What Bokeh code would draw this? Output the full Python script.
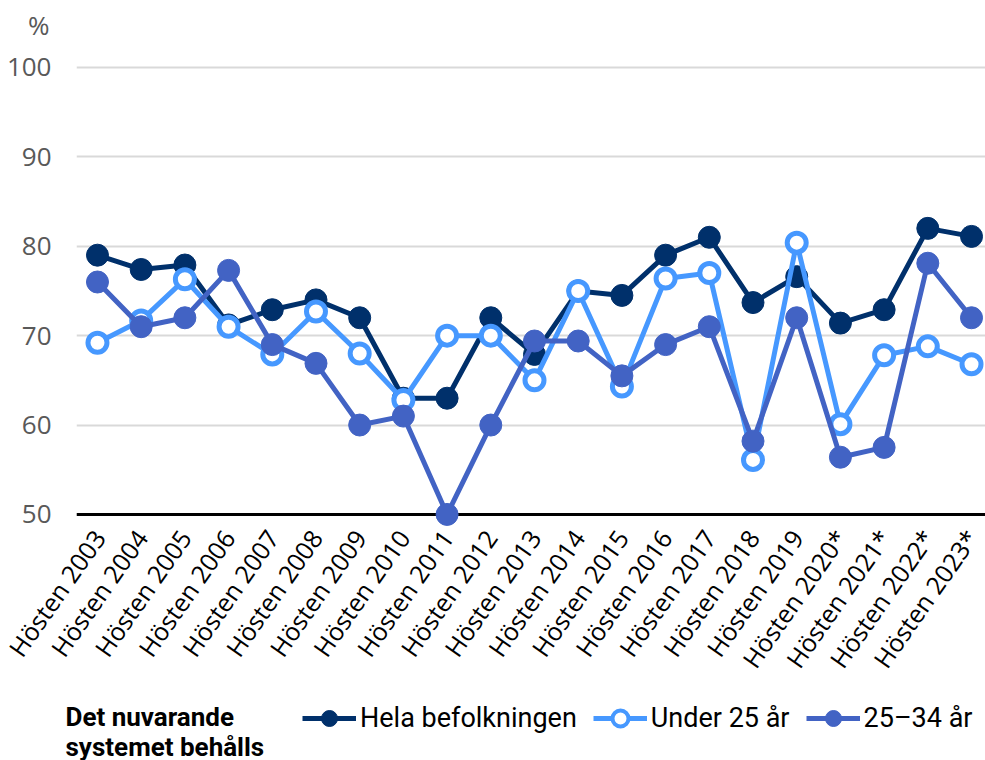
from bokeh.plotting import figure
from bokeh.layouts import column
from bokeh.models import Range1d, FixedTicker, Legend, LegendItem, Span, LinearAxis, Label
from bokeh.embed import file_html
from bokeh.resources import INLINE

periods = ["Hösten 2003", "Hösten 2004", "Hösten 2005", "Hösten 2006", "Hösten 2007",
           "Hösten 2008", "Hösten 2009", "Hösten 2010", "Hösten 2011", "Hösten 2012",
           "Hösten 2013", "Hösten 2014", "Hösten 2015", "Hösten 2016", "Hösten 2017",
           "Hösten 2018", "Hösten 2019", "Hösten 2020*", "Hösten 2021*", "Hösten 2022*",
           "Hösten 2023*"]
hela = [79.0, 77.4, 77.9, 71.2, 72.9, 74.0, 72.0, 63.0, 63.0, 72.0, 67.9,
        75.0, 74.5, 79.0, 81.0, 73.7, 76.6, 71.4, 72.9, 82.0, 81.1]
under25 = [69.2, 71.7, 76.3, 71.0, 67.9, 72.7, 68.0, 62.8, 70.0, 70.0, 65.0,
           75.0, 64.3, 76.4, 77.0, 56.1, 80.4, 60.1, 67.8, 68.8, 66.8]
age2534 = [76.0, 71.0, 72.0, 77.3, 69.0, 66.9, 60.0, 61.0, 50.0, 60.0, 69.4,
           69.4, 65.5, 69.0, 71.0, 58.2, 72.0, 56.4, 57.5, 78.1, 72.0]
y_ticks = [50, 60, 70, 80, 90, 100]

series_names = ["Hela befolkningen", "Under 25 år", "25–34 år"]
legend_title = "Det nuvarande\nsystemet behålls"
unit_label = "%"

C_DARK = "#00306B"
C_LIGHT = "#4698FF"
C_MED = "#4263C4"

FONT = "Open Sans"
LFONT = "Roboto"

x = list(range(len(periods)))
X0, X1 = -0.48, 20.32
LBL_SHIFT = 0.0


def strip(height):
    f = figure(width=985, height=height, output_backend="svg", toolbar_location=None,
               x_range=Range1d(0, 985), y_range=Range1d(height, 0),
               x_axis_location=None, y_axis_location=None,
               min_border_left=0, min_border_right=0, min_border_top=0,
               min_border_bottom=0)
    f.outline_line_color = None
    f.xgrid.visible = False
    f.ygrid.visible = False
    f.background_fill_color = "white"
    f.border_fill_color = "white"
    try:
        f.frame_align = False
    except Exception:
        pass
    return f


# ---------------- unit strip ----------------
top = strip(46)
top.add_layout(Label(x=49, y=24, text=unit_label, text_font=FONT, text_font_size="26px",
                     text_color="#595959", text_align="right",
                     text_baseline="middle"))

# ---------------- main chart ----------------
p = figure(width=985, height=644, output_backend="svg", toolbar_location=None,
           x_range=Range1d(X0, X1), y_range=Range1d(48.65, 100.33),
           x_axis_location=None,
           min_border_left=76, min_border_right=0, min_border_top=18,
           min_border_bottom=164)
try:
    p.frame_align = False
except Exception:
    pass
p.outline_line_color = None
p.background_fill_color = "white"
p.border_fill_color = "white"

p.xgrid.visible = False
p.ygrid.grid_line_color = "#D9D9D9"
p.ygrid.grid_line_width = 2
p.yaxis.ticker = FixedTicker(ticks=y_ticks)
p.yaxis.axis_line_color = None
p.yaxis.major_tick_line_color = None
p.yaxis.minor_tick_line_color = None
p.yaxis.major_tick_out = 0
p.yaxis.major_label_standoff = 25
p.yaxis.major_label_text_font = FONT
p.yaxis.major_label_text_font_size = "26px"
p.yaxis.major_label_text_color = "#595959"

p.extra_x_ranges = {"lbl": Range1d(X0 - LBL_SHIFT, X1 - LBL_SHIFT)}
xax = LinearAxis(x_range_name="lbl", ticker=FixedTicker(ticks=x))
xax.major_label_overrides = {i: s for i, s in enumerate(periods)}
xax.axis_line_color = None
xax.major_tick_line_color = None
xax.minor_tick_line_color = None
xax.major_tick_out = 0
xax.major_label_standoff = 6
xax.major_label_orientation = 0.96
xax.major_label_text_font = FONT
xax.major_label_text_font_size = "25px"
xax.major_label_text_color = "black"
p.add_layout(xax, "below")

baseline = Span(location=50, dimension="width", line_color="black", line_width=3,
                level="underlay")
p.add_layout(baseline)

styles = [
    dict(color=C_DARK, fill=C_DARK, size=22, mlw=1),
    dict(color=C_LIGHT, fill="white", size=19, mlw=5),
    dict(color=C_MED, fill=C_MED, size=22, mlw=1),
]
for vals, st in zip([hela, under25, age2534], styles):
    p.line(x, vals, line_color=st["color"], line_width=5)
    p.scatter(x, vals, size=st["size"], fill_color=st["fill"],
              line_color=st["color"], line_width=st["mlw"])

# ---------------- legend strip ----------------
q = strip(70)
items = []
for name, st in zip(series_names, styles):
    lr = q.line([-1000, -999], [-1000, -1000], line_color=st["color"], line_width=5)
    sr = q.scatter([-1000], [-1000], fill_color=st["fill"], line_color=st["color"],
                   line_width=4 if st["fill"] == "white" else 1)
    items.append(LegendItem(label=name, renderers=[lr, sr]))

legend = Legend(items=items, orientation="horizontal", location=(302, 22),
                padding=0, margin=0, spacing=16, glyph_width=54, glyph_height=40,
                label_standoff=4, label_text_font=LFONT, label_text_font_size="27px",
                label_text_color="black", background_fill_alpha=0,
                border_line_color=None)
q.add_layout(legend)

q.add_layout(Label(x=65, y=11, text=legend_title, text_font=LFONT, text_font_style="bold",
                   text_font_size="26px", text_color="black", text_align="left",
                   text_baseline="top", text_line_height=1.0))

layout = column(top, p, q, spacing=0)
open("out.html", "w").write(file_html(layout, INLINE))
